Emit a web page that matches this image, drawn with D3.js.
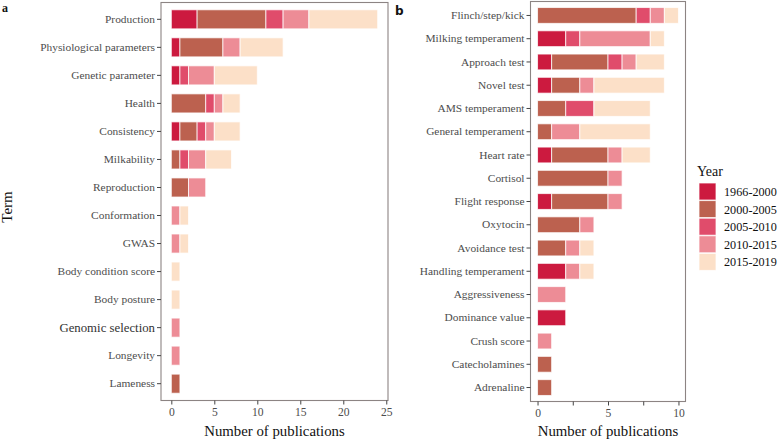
<!DOCTYPE html>
<html><head><meta charset="utf-8">
<script src="https://cdn.jsdelivr.net/npm/d3@7"></script>
<style>
body{margin:0;background:#fff;}
svg{display:block;}
svg text{font-family:"Liberation Serif","Tinos","Times New Roman",Times,"DejaVu Serif",serif !important;}
svg text.sans{font-family:"DejaVu Sans",sans-serif !important;}
</style></head>
<body>
<svg id="chart" width="780" height="441"></svg>
<script>
const yearLevels = ["1966-2000","2000-2005","2005-2010","2010-2015","2015-2019"];
const yearColors = ["#cc1a3f","#bc614f","#e04c6b","#ed8c96","#fce0c8"];

const termsA = ["Production","Physiological parameters","Genetic parameter","Health","Consistency","Milkability","Reproduction","Conformation","GWAS","Body condition score","Body posture","Genomic selection","Longevity","Lameness"];
const a1966 = [3,1,1,0,1,0,0,0,0,0,0,0,0,0];
const a2000 = [8,5,0,4,2,1,2,0,0,0,0,0,0,1];
const a2005 = [2,0,1,1,1,1,0,0,0,0,0,0,0,0];
const a2010 = [3,2,3,1,1,2,2,1,1,0,0,1,1,0];
const a2015 = [8,5,5,2,3,3,0,1,1,1,1,0,0,0];
const ticksA = [0,5,10,15,20,25];

const termsB = ["Flinch/step/kick","Milking temperament","Approach test","Novel test","AMS temperament","General temperament","Heart rate","Cortisol","Flight response","Oxytocin","Avoidance test","Handling temperament","Aggressiveness","Dominance value","Crush score","Catecholamines","Adrenaline"];
const b1966 = [0,2,1,1,0,0,1,0,1,0,0,2,0,2,0,0,0];
const b2000 = [7,0,4,2,2,1,4,5,4,3,2,0,0,0,0,1,1];
const b2005 = [1,1,1,0,2,0,0,0,0,0,0,0,0,0,0,0,0];
const b2010 = [1,5,1,1,0,2,1,1,1,1,1,1,2,0,1,0,0];
const b2015 = [1,1,2,5,4,5,2,0,0,0,1,1,0,0,0,0,0];
const ticksB = [0,2.5,5,7.5,10];
const labelsB = [0,5,10];

const svg = d3.select("#chart");
const color = d3.scaleOrdinal().domain(yearLevels).range(yearColors);

function panel(cfg){
  const rows = cfg.terms.map((t,i)=>{
    const r = {term:t};
    cfg.series.forEach((s,k)=>{ r[yearLevels[k]] = s[i]; });
    return r;
  });
  const stack = d3.stack().keys(yearLevels)(rows);
  const x = d3.scaleLinear().domain(cfg.xdom).range([cfg.left, cfg.right]);
  const y = d3.scaleBand().domain(cfg.terms).range([cfg.top, cfg.bottom])
    .paddingInner(0.32).paddingOuter(0.26);
  const g = svg.append("g");
  g.append("rect").attr("x",cfg.left).attr("y",cfg.top)
    .attr("width",cfg.right-cfg.left).attr("height",cfg.bottom-cfg.top)
    .attr("fill","none").attr("stroke","#8c8483").attr("stroke-width",1.1);
  g.selectAll("g.layer").data(stack).join("g").attr("class","layer")
    .attr("fill",d=>color(d.key))
    .selectAll("rect").data(d=>d.filter(s=>s[1]-s[0]>0)).join("rect")
    .attr("x",d=>x(d[0])).attr("width",d=>x(d[1])-x(d[0]))
    .attr("y",d=>y(d.data.term)).attr("height",y.bandwidth())
    .attr("stroke","#ffffff").attr("stroke-opacity",0.75).attr("stroke-width",1);
  const ya = g.append("g").attr("transform",`translate(${cfg.left},0)`)
    .call(d3.axisLeft(y).tickSize(4).tickPadding(2));
  ya.select(".domain").remove();
  ya.selectAll(".tick line").attr("stroke","#444");
  ya.selectAll(".tick text").attr("fill","#4d4d4d").style("font-size","11.4px");
  ya.selectAll(".tick text").filter(d=>d==="Genomic selection")
    .style("font-size","12.8px").attr("fill","#333");
  const xa = g.append("g").attr("transform",`translate(0,${cfg.bottom})`)
    .call(d3.axisBottom(x).tickValues(cfg.ticks).tickSize(4).tickPadding(3)
      .tickFormat(d=>cfg.labels.includes(d)?d3.format("d")(d):""));
  xa.select(".domain").remove();
  xa.selectAll(".tick line").attr("stroke","#444");
  xa.selectAll(".tick text").attr("fill","#4d4d4d").style("font-size","11.6px");
  g.append("text").attr("x",(cfg.left+cfg.right)/2).attr("y",436)
    .attr("text-anchor","middle").style("font-size","14.8px").attr("fill","#111")
    .text("Number of publications");
  g.append("text").attr("x",cfg.tagX).attr("y",cfg.tagY)
    .attr("class",cfg.tagClass)
    .style("font-size","12px").style("font-weight","bold")
    .attr("fill","#111").text(cfg.tag);
}

panel({terms:termsA, series:[a1966,a2000,a2005,a2010,a2015], xdom:[-1.2,25.2],
  left:161, right:388, top:2.5, bottom:400.5, ticks:ticksA, labels:ticksA,
  tag:"a", tagX:2, tagY:12, tagClass:""});
panel({terms:termsB, series:[b1966,b2000,b2005,b2010,b2015], xdom:[-0.5,10.5],
  left:530.5, right:685.5, top:1.5, bottom:401.5, ticks:ticksB, labels:labelsB,
  tag:"b", tagX:395, tagY:15, tagClass:"sans"});

svg.append("text").attr("transform","translate(12,207) rotate(-90)")
  .attr("text-anchor","middle").style("font-size","15px").attr("fill","#111").text("Term");

const lg = svg.append("g").attr("transform","translate(699,0)");
lg.append("text").attr("x",-2).attr("y",176).style("font-size","14px").attr("fill","#111").text("Year");
const items = lg.selectAll("g.item").data(yearLevels).join("g").attr("class","item")
  .attr("transform",(d,i)=>`translate(0,${183+i*17.6})`);
items.append("rect").attr("width",17).attr("height",17).attr("fill",d=>color(d))
  .attr("stroke","#fff").attr("stroke-opacity",0.75);
items.append("text").attr("x",25).attr("y",13).style("font-size","12.2px").attr("fill","#111").text(d=>d);
</script>
</body></html>
